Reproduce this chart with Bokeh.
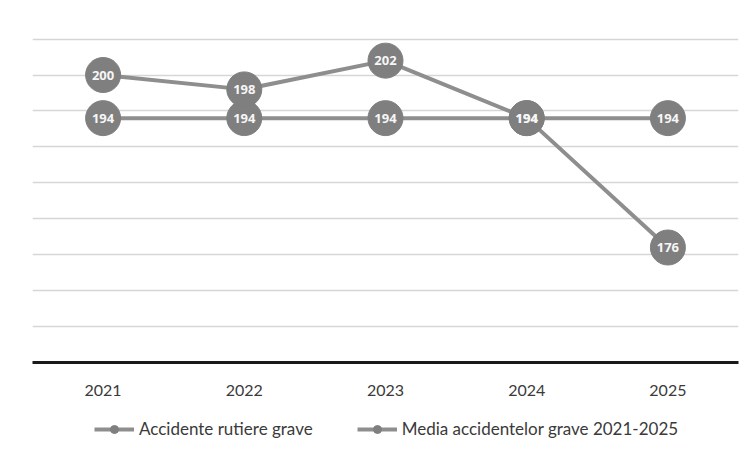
from bokeh.plotting import figure
from bokeh.models import ColumnDataSource, Legend, LegendItem, FixedTicker, LabelSet, Range1d
from bokeh.core.properties import value
from bokeh.layouts import column
from bokeh.embed import file_html
from bokeh.resources import INLINE

years = ["2021", "2022", "2023", "2024", "2025"]
accidente = [200, 198, 202, 194, 176]
media = [194, 194, 194, 194, 194]
series_names = ["Accidente rutiere grave", "Media accidentelor grave 2021-2025"]
grid_ticks = [165, 170, 175, 180, 185, 190, 195, 200, 205]

src_a = ColumnDataSource(dict(x=years, y=accidente, t=[str(v) for v in accidente]))
src_m = ColumnDataSource(dict(x=years, y=media, t=[str(v) for v in media]))

line_col = "#8e8e8e"
dot_col = "#7f7f7f"

p = figure(width=740, height=400, x_range=years, y_range=(160, 208),
           output_backend="svg", toolbar_location=None,
           min_border_left=32, min_border_right=2, min_border_top=17, min_border_bottom=38)
p.outline_line_color = None
p.background_fill_color = "#ffffff"
p.border_fill_color = "#ffffff"

p.yaxis.visible = False
p.ygrid.ticker = FixedTicker(ticks=grid_ticks)
p.ygrid.grid_line_color = "#d6d6d6"
p.ygrid.grid_line_width = 1.5
p.xgrid.grid_line_color = None

p.xaxis.axis_line_color = "#1a1a1a"
p.xaxis.axis_line_width = 3
p.xaxis.major_tick_line_color = None
p.xaxis.minor_tick_line_color = None
p.xaxis.major_label_standoff = 16
p.xaxis.major_label_text_font = "Lato"
p.xaxis.major_label_text_font_size = "16px"
p.xaxis.major_label_text_color = "#3a3a3a"

lm = p.line("x", "y", source=src_m, line_color=line_col, line_width=4)
la = p.line("x", "y", source=src_a, line_color=line_col, line_width=4)
cm = p.scatter("x", "y", source=src_m, size=35, fill_color=dot_col, line_color=dot_col)
ca = p.scatter("x", "y", source=src_a, size=35, fill_color=dot_col, line_color=dot_col)

for src in (src_m, src_a):
    lab = LabelSet(x="x", y="y", text="t", source=src, text_align="center",
                   text_baseline="middle", text_color="#f6f6f6",
                   text_font=value("Open Sans"), text_font_size="13px",
                   text_font_style="bold")
    p.add_layout(lab)

# legend strip below the chart
q = figure(width=740, height=48, x_range=Range1d(0, 1), y_range=Range1d(0, 1),
           output_backend="svg", toolbar_location=None,
           x_axis_location=None, y_axis_location=None,
           min_border_left=0, min_border_right=0, min_border_top=0, min_border_bottom=0)
q.outline_line_color = None
q.grid.visible = False
off = ([-2.0, -1.5], [-2.0, -2.0])
qa_l = q.line(x=off[0], y=off[1], line_color=line_col, line_width=4)
qa_c = q.scatter(x=off[0], y=off[1], size=8, fill_color=dot_col, line_color=dot_col)
qm_l = q.line(x=off[0], y=off[1], line_color=line_col, line_width=4)
qm_c = q.scatter(x=off[0], y=off[1], size=8, fill_color=dot_col, line_color=dot_col)

legend = Legend(items=[LegendItem(label=series_names[0], renderers=[qa_l, qa_c]),
                       LegendItem(label=series_names[1], renderers=[qm_l, qm_c])],
                orientation="horizontal", location=(62, 9),
                label_text_font="Lato", label_text_font_size="17px",
                label_text_color="#3a3a3a", glyph_width=40, glyph_height=20,
                label_standoff=5, spacing=44, margin=0, padding=4,
                border_line_color=None, background_fill_alpha=0)
q.add_layout(legend)

open("out.html", "w").write(file_html(column(p, q, spacing=0), INLINE))
